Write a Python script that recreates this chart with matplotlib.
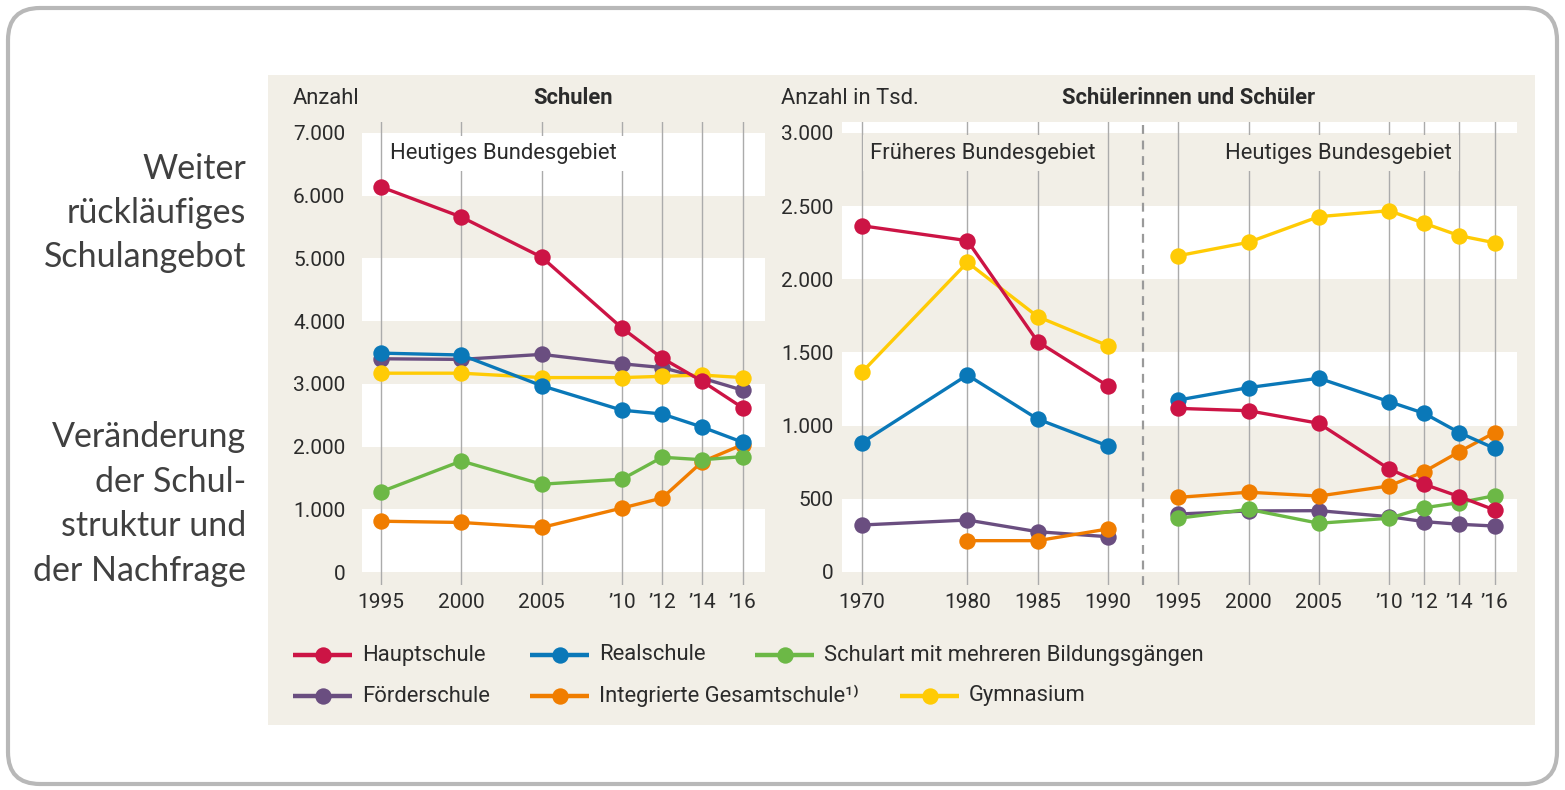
import numpy as np
import matplotlib
matplotlib.use('Agg')
import matplotlib.pyplot as plt
from matplotlib.patches import FancyBboxPatch, Rectangle

plt.rcParams['font.family'] = ['Roboto', 'DejaVu Sans']

# ---- Daten ----
names = ['Hauptschule', 'Realschule', 'Schulart mit mehreren Bildungsgängen',
         'Förderschule', 'Integrierte Gesamtschule¹⁾', 'Gymnasium']
colors = ['#cc1445', '#0a78b8', '#6cb846', '#6a4e80', '#f07d00', '#ffcb05']
draw_order = [3, 4, 2, 5, 1, 0]   # lila unten, rot oben

# Schulen (Anzahl), heutiges Bundesgebiet
years_left = ['1995', '2000', '2005', '’10', '’12', '’14', '’16']
schulen = [
    [6140, 5660, 5020, 3890, 3410, 3040, 2620],   # Hauptschule
    [3490, 3460, 2970, 2580, 2520, 2310, 2070],   # Realschule
    [1280, 1770, 1400, 1480, 1830, 1790, 1840],   # mehrere Bildungsgänge
    [3400, 3390, 3470, 3320, 3260, 3090, 2900],   # Förderschule
    [810, 790, 710, 1020, 1180, 1760, 2030],      # Gesamtschule
    [3170, 3170, 3100, 3100, 3120, 3140, 3100],   # Gymnasium
]

# Schülerinnen und Schüler (in Tsd.)
years_alt = ['1970', '1980', '1985', '1990']
schueler_alt = [
    [2366, 2264, 1574, 1271],
    [884, 1346, 1045, 861],
    None,
    [321, 355, 275, 241],
    [None, 214, 214, 294],
    [1365, 2116, 1745, 1546],
]
years_neu = ['1995', '2000', '2005', '’10', '’12', '’14', '’16']
schueler_neu = [
    [1118, 1102, 1016, 704, 599, 515, 424],
    [1175, 1260, 1324, 1164, 1084, 952, 845],
    [367, 428, 333, 367, 439, 474, 521],
    [396, 417, 419, 378, 344, 326, 314],
    [510, 545, 519, 588, 686, 822, 952],
    [2161, 2253, 2428, 2469, 2383, 2298, 2250],
]

# Positionen auf der x-Achse (ungleiche Abstände wie im Original)
pos_left = [0, 1, 2, 3, 3.5, 4, 4.5]
pos_alt = [0, 1.5, 2.5, 3.5]
pos_neu = [4.5, 5.5, 6.5, 7.5, 8.0, 8.5, 9.0]

W, H = 1565, 790
beige = '#f2efe7'
grid_c = '#ababab'
txt_c = '#2b2b2b'
fs = 15
fs_txt = 15.8

fig = plt.figure(figsize=(W / 100, H / 100), dpi=100)
fig.patch.set_facecolor('white')

# Hintergrund-Achse in Pixelkoordinaten
bg = fig.add_axes([0, 0, 1, 1], zorder=-5)
bg.set_xlim(0, W)
bg.set_ylim(H, 0)
bg.axis('off')
bg.add_patch(FancyBboxPatch((8, 8), W - 16, H - 14,
                            boxstyle='round,pad=0,rounding_size=32',
                            fc='white', ec='#b8b8b8', lw=3))
bg.add_patch(Rectangle((268, 75), 1535 - 268, 725 - 75, fc=beige, ec='none'))

side_font = ['Lato', 'DejaVu Sans']
bg.text(246, 213, 'Weiter\nrückläufiges\nSchulangebot', ha='right', va='center',
        fontsize=24.5, color='#404040', family=side_font, linespacing=1.48)
bg.text(246, 504, 'Veränderung\nder Schul-\nstruktur und\nder Nachfrage', ha='right',
        va='center', fontsize=24.5, color='#404040', family=side_font,
        linespacing=1.48)

bg.text(293, 98, 'Anzahl', ha='left', va='center', fontsize=fs_txt, color=txt_c)
bg.text(573, 98, 'Schulen', ha='center', va='center', fontsize=fs_txt, color=txt_c,
        fontweight='bold')
bg.text(781, 98, 'Anzahl in Tsd.', ha='left', va='center', fontsize=fs_txt, color=txt_c)
bg.text(1189, 98, 'Schülerinnen und Schüler', ha='center', va='center', fontsize=fs_txt,
        color=txt_c, fontweight='bold')


def style_axes(ax, pos, labels, ticks, ticklabels, white_bands, ypad):
    ax.set_facecolor('none')
    for lo, hi in white_bands:
        ax.axhspan(lo, hi, color='white', lw=0, zorder=0)
    for p in pos:
        ax.axvline(p, color=grid_c, lw=1, zorder=1)
    ax.set_xticks(pos)
    ax.set_xticklabels(labels)
    ax.set_yticks(ticks)
    ax.set_yticklabels(ticklabels)
    ax.tick_params(length=0, labelsize=fs, labelcolor=txt_c)
    ax.tick_params(axis='y', pad=ypad)
    ax.tick_params(axis='x', pad=6)
    for s in ax.spines.values():
        s.set_visible(False)


def fmt(v):
    return f'{v:,}'.replace(',', '.')


# ---- linke Grafik: Schulen ----
axL = fig.add_axes([362 / W, (H - 585) / H, 403 / W, 463 / H])
axL.set_xlim(-0.237, 4.78)
axL.set_ylim(-207, 7175)
ticksL = list(range(0, 7001, 1000))
style_axes(axL, pos_left, years_left, ticksL, [fmt(t) for t in ticksL],
           [(6000, 7000), (4000, 5000), (2000, 3000), (0, 1000)], 12)
for i in draw_order:
    axL.plot(pos_left, schulen[i], color=colors[i], lw=2.4, marker='o', ms=11.8,
             mec='none', zorder=3 + draw_order.index(i))
axL.text(1.52, 6670, 'Heutiges Bundesgebiet', ha='center', va='center', fontsize=fs_txt,
         color=txt_c, zorder=2,
         bbox=dict(boxstyle='square,pad=0.33', fc='white', ec='none'))

# ---- rechte Grafik: Schülerinnen und Schüler ----
axR = fig.add_axes([842 / W, (H - 585) / H, 675 / W, 463 / H])
axR.set_xlim(-0.284, 9.32)
axR.set_ylim(-89, 3075)
ticksR = list(range(0, 3001, 500))
style_axes(axR, pos_alt + pos_neu, years_alt + years_neu, ticksR,
           [fmt(t) for t in ticksR],
           [(3000, 3075), (2000, 2500), (1000, 1500), (0, 500)], 6)
axR.axvline(4.0, color='#9a9a9a', lw=1.6, ls=(0, (4, 3)), zorder=1)
for i in draw_order:
    z = 3 + draw_order.index(i)
    if schueler_alt[i] is not None:
        xs = [p for p, v in zip(pos_alt, schueler_alt[i]) if v is not None]
        ys = [v for v in schueler_alt[i] if v is not None]
        axR.plot(xs, ys, color=colors[i], lw=2.4, marker='o', ms=11.8, mec='none', zorder=z)
    axR.plot(pos_neu, schueler_neu[i], color=colors[i], lw=2.4, marker='o', ms=11.8,
             mec='none', zorder=z)
axR.text(1.72, 2862, 'Früheres Bundesgebiet', ha='center', va='center', fontsize=fs_txt,
         color=txt_c, zorder=2,
         bbox=dict(boxstyle='square,pad=0.33', fc=beige, ec='none'))
axR.text(6.78, 2862, 'Heutiges Bundesgebiet', ha='center', va='center', fontsize=fs_txt,
         color=txt_c, zorder=2,
         bbox=dict(boxstyle='square,pad=0.33', fc=beige, ec='none'))

# ---- Legende ----
leg_x = [293, 530, 755, 293, 530, 900]
leg_y = [655, 655, 655, 696, 696, 696]
for i in range(6):
    x0, y0 = leg_x[i], leg_y[i]
    bg.plot([x0, x0 + 59], [y0, y0], color=colors[i], lw=3.2, solid_capstyle='butt')
    bg.plot([x0 + 29.5], [y0], 'o', color=colors[i], ms=11.8, mec='none')
    bg.text(x0 + 69, y0, names[i], ha='left', va='center', fontsize=fs_txt, color=txt_c)

fig.savefig('out.png', dpi=100, facecolor='white')
